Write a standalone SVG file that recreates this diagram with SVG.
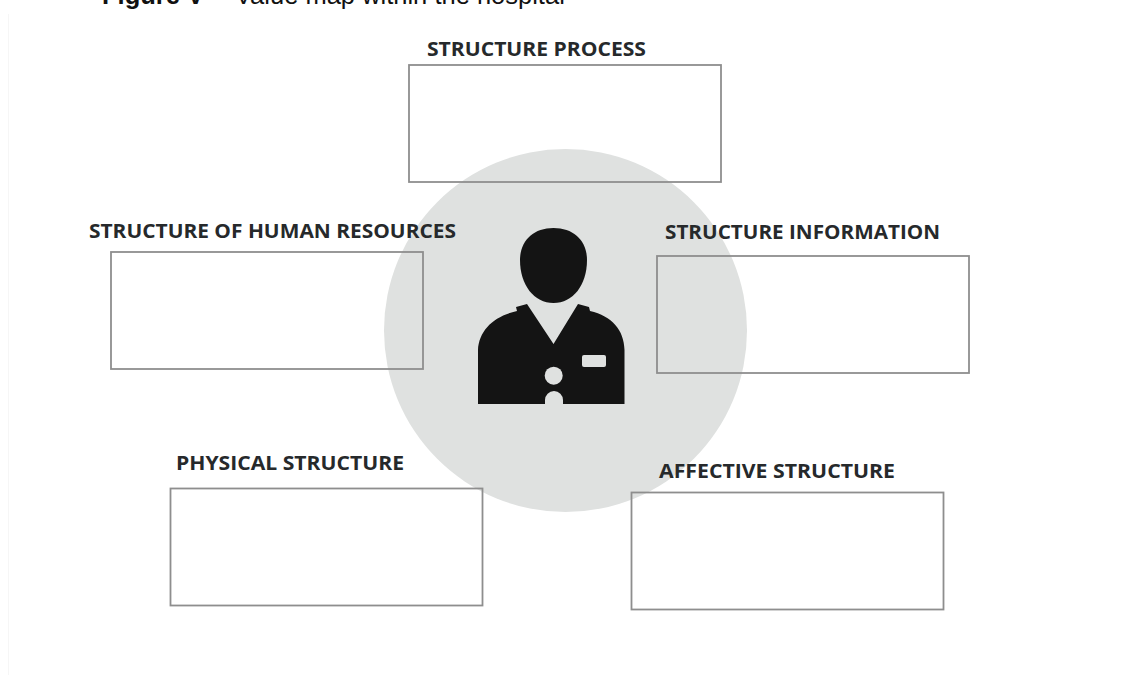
<svg xmlns="http://www.w3.org/2000/svg" width="1123" height="675" viewBox="0 0 1123 675">
<style>
.box{fill:none;stroke:#8e8e8e;stroke-width:1.8}
.lbl{font-family:"Open Sans","Liberation Sans",sans-serif;font-weight:700;font-size:19px;fill:#26292b}
.title{font-family:"Liberation Sans",Arial,sans-serif;font-size:25.500px;fill:#111}
.ink{fill:#141414}
.bg{fill:#dfe1e0}
</style>
<rect width="1123" height="675" fill="#fff"/>
<line x1="8.500" y1="14" x2="8.500" y2="675" stroke="#f6f6f6" stroke-width="1"/>
<text class="title" x="102" y="4"><tspan font-weight="700">Figure V</tspan><tspan x="235">Value map within the hospital</tspan></text>
<g id="circle"><circle class="bg" cx="565.500" cy="330.500" r="181.500"/></g>
<g id="person">
<path class="ink" d="M553.500 228C574 228 587 241 587 260C587 285 573 303 553.500 303C534 303 520 285 520 260C520 241 533 228 553.500 228Z"/>
<path class="ink" d="M516 307L527 304L553.500 344L578 304L589 307L590 311C612 316 624 330 624.500 350L624.500 404H563V400A9 9 0 0 0 545 400V404H478V350C479 330 494 316 517 311Z"/>
<circle class="bg" cx="553.700" cy="375.700" r="9"/>
<rect class="bg" x="582" y="355" width="24" height="12" rx="2"/>
</g>
<g id="structure-process"><rect class="box" x="409" y="65" width="312" height="117"/><text class="lbl" x="427" y="56" textLength="219" lengthAdjust="spacingAndGlyphs">STRUCTURE PROCESS</text></g>
<g id="structure-human"><rect class="box" x="111" y="252" width="312" height="117"/><text class="lbl" x="89" y="238" textLength="367" lengthAdjust="spacingAndGlyphs">STRUCTURE OF HUMAN RESOURCES</text></g>
<g id="structure-information"><rect class="box" x="657" y="256" width="312" height="117"/><text class="lbl" x="665" y="239" textLength="275" lengthAdjust="spacingAndGlyphs">STRUCTURE INFORMATION</text></g>
<g id="physical-structure"><rect class="box" x="170.500" y="488.500" width="312" height="117"/><text class="lbl" x="176" y="470" textLength="228" lengthAdjust="spacingAndGlyphs">PHYSICAL STRUCTURE</text></g>
<g id="affective-structure"><rect class="box" x="631.500" y="492.500" width="312" height="117"/><text class="lbl" x="659" y="478" textLength="236" lengthAdjust="spacingAndGlyphs">AFFECTIVE STRUCTURE</text></g>
<g id="connectors"></g>
</svg>
